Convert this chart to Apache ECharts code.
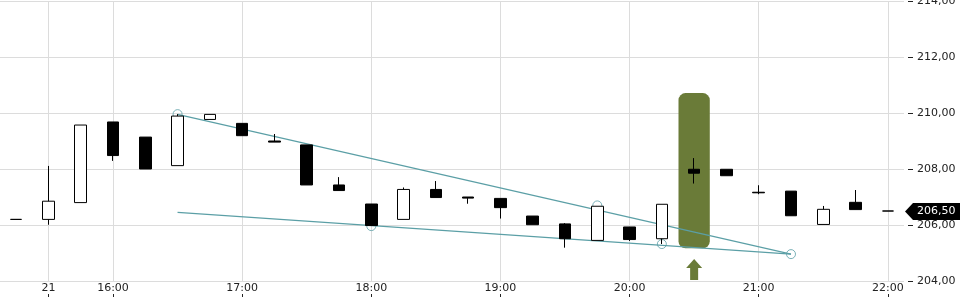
<!DOCTYPE html>
<html>
<head>
<meta charset="utf-8">
<script src="https://cdn.jsdelivr.net/npm/echarts@6/dist/echarts.min.js"></script>
<style>
html,body{margin:0;padding:0;background:#fff;}
#chart{width:960px;height:300px;}
</style>
</head>
<body>
<div id="chart"></div>
<script>
// ---- data ----
const categories = ['15:15','15:30','15:45','16:00','16:15','16:30','16:45','17:00','17:15','17:30','17:45','18:00','18:15','18:30','18:45','19:00','19:15','19:30','19:45','20:00','20:15','20:30','20:45','21:00','21:15','21:30','21:45','22:00'];
const tickLabels = ['','21','','16:00','','','','17:00','','','','18:00','','','','19:00','','','','20:00','','','','21:00','','','','22:00'];
const opens  = [206.20,206.20,206.80,209.68,209.14,208.12,209.77,209.63,209.00,208.86,207.43,206.75,206.20,207.27,207.00,206.95,206.32,206.04,205.45,205.93,205.51,207.99,207.99,207.17,207.21,206.02,206.81,206.50];
const closes = [206.20,206.85,209.57,208.48,208.00,209.89,209.95,209.19,208.96,207.43,207.23,205.98,207.27,206.98,206.96,206.62,206.01,205.51,206.67,205.48,206.74,207.85,207.76,207.15,206.33,206.56,206.55,206.50];
const lows   = [206.20,206.01,206.80,208.29,208.00,208.12,209.77,209.19,208.96,207.43,207.23,205.98,206.20,206.98,206.76,206.23,206.01,205.19,205.45,205.43,205.32,207.48,207.76,207.10,206.33,206.02,206.55,206.50];
const highs  = [206.20,208.11,209.57,209.68,209.14,209.96,209.95,209.63,209.25,208.86,207.71,206.75,207.34,207.57,207.00,206.95,206.32,206.07,206.67,205.93,206.74,208.39,207.99,207.42,207.21,206.68,207.25,206.50];
const trendUpper = [[5, 209.95], [24, 204.96]];
const trendLower = [[5, 206.45], [24, 204.96]];
const touchPoints = [[5, 209.96], [11, 205.96], [18, 206.70], [20, 205.32], [24, 204.96]];
const signalBox = [[21, 205.17, 210.71]];
const signalArrow = [[21, 204]];
const lastPrice = [[27, 206.50]];
const yTicks = {min: 204, max: 214, interval: 2};

// ---- chart ----
const fmt = v => v.toFixed(2).replace('.', ',');
const labelIdx = tickLabels.map((t, i) => t !== '' ? i : -1).filter(i => i >= 0);
const showIdx = (idx) => tickLabels[idx] !== '';
const teal = '#5b9fa6';
const green = '#6a7b38';
const font = 'DejaVu Sans';

const chart = echarts.init(document.getElementById('chart'), null, {renderer: 'canvas'});
const candleData = categories.map((c, i) => [opens[i], closes[i], lows[i], highs[i]]);

chart.setOption({
  animation: false,
  backgroundColor: '#fff',
  grid: {left: 0, right: 56, top: 1, bottom: 19, containLabel: false, outerBoundsMode: 'none'},
  xAxis: [{
    type: 'category', data: categories, position: 'bottom', boundaryGap: true,
    axisLine: {show: false}, axisTick: {show: false}, splitLine: {show: false},
    axisLabel: {interval: showIdx, formatter: (v, i) => tickLabels[i], color: '#222', fontSize: 11, fontFamily: font, margin: 2}
  }, {
    type: 'category', data: categories, position: 'bottom', offset: 13, boundaryGap: true,
    axisLine: {show: false}, axisLabel: {show: false}, splitLine: {show: false},
    axisTick: {show: true, alignWithLabel: true, interval: showIdx, length: 3, lineStyle: {color: '#222', width: 1}}
  }],
  yAxis: {
    type: 'value', position: 'right', offset: 4, min: yTicks.min, max: yTicks.max, interval: yTicks.interval,
    axisLine: {show: false},
    axisTick: {show: true, length: 5, lineStyle: {color: '#222'}},
    axisLabel: {formatter: fmt, color: '#222', fontSize: 11, fontFamily: font, margin: 9},
    splitLine: {show: true, lineStyle: {color: '#dcdcdc', width: 1}}
  },
  series: [
    {
      type: 'custom', name: 'signal', z: 2, clip: false,
      data: signalBox,
      encode: {x: 0, y: [1, 2]},
      renderItem: (params, api) => {
        const x = api.value(0);
        const top = api.coord([x, api.value(2)]);
        const bot = api.coord([x, api.value(1)]);
        const w = api.size([1, 0])[0];
        return {type: 'rect', shape: {x: top[0] - w / 2 + 0.5, y: top[1], width: w - 1, height: bot[1] - top[1], r: 7}, style: {fill: green}};
      },
      markLine: {
        silent: true, symbol: 'none', z: 1, animation: false,
        label: {show: false},
        lineStyle: {color: '#dcdcdc', width: 1, type: 'solid'},
        data: labelIdx.map(i => ({xAxis: categories[i]}))
      }
    },
    {
      type: 'custom', name: 'arrow', z: 2, clip: false,
      data: signalArrow,
      encode: {x: 0, y: 1},
      renderItem: (params, api) => {
        const p = api.coord([api.value(0), api.value(1)]);
        const cx = p[0], by = p[1] - 1, ty = p[1] - 22;
        return {type: 'polygon', shape: {points: [[cx - 4, by], [cx - 4, ty + 9], [cx - 8, ty + 9], [cx, ty], [cx + 8, ty + 9], [cx + 4, ty + 9], [cx + 4, by]]}, style: {fill: green}};
      }
    },
    {type: 'line', data: trendUpper, z: 3, symbol: 'none', lineStyle: {color: teal, width: 1.2}, silent: true},
    {type: 'line', data: trendLower, z: 3, symbol: 'none', lineStyle: {color: teal, width: 1.2}, silent: true},
    {type: 'scatter', data: touchPoints, z: 3, symbol: 'circle', symbolSize: 9, itemStyle: {color: 'rgba(0,0,0,0)', borderColor: teal, borderWidth: 1}, silent: true},
    {
      type: 'candlestick', z: 5, data: candleData, barWidth: 12,
      itemStyle: {color: '#fff', color0: '#000', borderColor: '#000', borderColor0: '#000', borderColorDoji: '#000', borderWidth: 1}
    },
    {
      type: 'custom', name: 'last', z: 6, clip: false,
      data: lastPrice,
      encode: {x: 0, y: 1},
      renderItem: (params, api) => {
        const p = api.coord([api.value(0), api.value(1)]);
        const w = api.size([1, 0])[0];
        const xr = p[0] + w / 2;
        const cy = Math.round(p[1]) + 0.5;
        const W = api.getWidth();
        return {type: 'group', children: [
          {type: 'polygon', shape: {points: [[xr + 1, cy], [xr + 9, cy - 8.5], [W, cy - 8.5], [W, cy + 8.5], [xr + 9, cy + 8.5]]}, style: {fill: '#000'}},
          {type: 'text', style: {text: fmt(api.value(1)), x: xr + 13, y: cy, fill: '#fff', font: '11px "DejaVu Sans"', textVerticalAlign: 'middle', verticalAlign: 'middle', align: 'left'}}
        ]};
      }
    }
  ]
});
</script>
</body>
</html>
